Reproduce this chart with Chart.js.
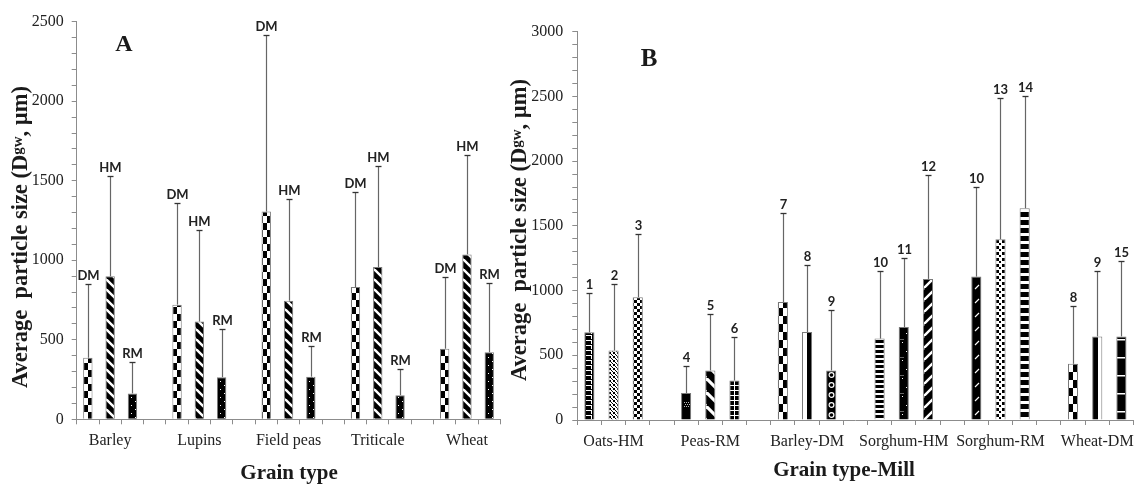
<!DOCTYPE html>
<html><head><meta charset="utf-8">
<script src="https://cdn.jsdelivr.net/npm/chart.js@4.4.1/dist/chart.umd.min.js"></script>
<style>
html,body{margin:0;padding:0;background:#fff;width:1139px;height:485px;overflow:hidden;}
#wa{position:absolute;left:0;top:0;width:510px;height:485px;}
#wb{position:absolute;left:505px;top:0;width:634px;height:485px;}
</style></head><body>
<div id="wa"><canvas id="ca" width="510" height="485"></canvas></div>
<div id="wb"><canvas id="cb" width="634" height="485"></canvas></div>
<script>
// ---------- Data: panel A ----------
const categoriesA = ['Barley', 'Lupins', 'Field peas', 'Triticale', 'Wheat'];
const millsA = ['DM', 'HM', 'RM'];
const dmMeanA = [387, 721, 1306, 832, 444];
const hmMeanA = [899, 615, 746, 957, 1037];
const rmMeanA = [163, 265, 268, 152, 422];
const dmUpperA = [849, 1361, 2418, 1432, 894];
const hmUpperA = [1528, 1189, 1386, 1591, 1662];
const rmUpperA = [360, 569, 461, 316, 855];
const yTicksA = {min: 0, max: 2500, major: 500, minor: 100};

// ---------- Data: panel B ----------
const categoriesB = ['Oats-HM', 'Peas-RM', 'Barley-DM', 'Sorghum-HM', 'Sorghum-RM', 'Wheat-DM'];
const barNumbersB = ['1','2','3','4','5','6','7','8','9','10','11','12','10','13','14','8','9','15'];
const meanB = [678, 537, 949, 208, 383, 305, 911, 679, 383, 629, 718, 1090, 1108, 1397, 1636, 434, 646, 646];
const upperB = [980, 1052, 1440, 418, 818, 638, 1598, 1198, 848, 1150, 1255, 1895, 1797, 2484, 2507, 884, 1152, 1232];
const yTicksB = {min: 0, max: 3000, major: 500, minor: 100};

// ---------- Patterns ----------
const K = '#000', Wt = '#fff';
function tile(w, h, draw) {
  const c = document.createElement('canvas'); c.width = w; c.height = h;
  const g = c.getContext('2d'); draw(g, w, h); return c;
}
function diag(g, w, h, lw, back) {
  g.fillStyle = K; g.fillRect(0, 0, w, h);
  g.strokeStyle = Wt; g.lineWidth = lw;
  for (const o of [-w, 0, w]) {
    g.beginPath();
    if (back) { g.moveTo(o, 0); g.lineTo(o + w, h); }
    else { g.moveTo(o, h); g.lineTo(o + w, 0); }
    g.stroke();
  }
}
const tiles = {
  checkerA: tile(8, 14, g => { g.fillStyle = Wt; g.fillRect(0,0,8,14); g.fillStyle = K; g.fillRect(0,0,4,7); g.fillRect(4,7,4,7); }),
  diagA: tile(10, 10, (g,w,h) => diag(g, w, h, 2.4, true)),
  dotsA: tile(8, 8, g => { g.fillStyle = K; g.fillRect(0,0,8,8); g.fillStyle = Wt; g.fillRect(2,2,1,1); g.fillRect(6,6,1,1); }),
  greek: tile(9, 5, g => { g.fillStyle = K; g.fillRect(0,0,9,5); g.fillStyle = Wt; g.fillRect(1,0,6,1); g.fillRect(6,0,1,4); }),
  fineCheck: tile(4, 4, g => { g.fillStyle = Wt; g.fillRect(0,0,4,4); g.fillStyle = K; g.fillRect(0,0,2,2); g.fillRect(2,2,1,1); g.fillRect(3,3,1,1); }),
  medCheck: tile(6, 6, g => { g.fillStyle = Wt; g.fillRect(0,0,6,6); g.fillStyle = K; g.fillRect(0,0,3,3); g.fillRect(3,3,3,3); }),
  blackPatch: tile(10, 30, g => { g.fillStyle = K; g.fillRect(0,0,10,30); g.fillStyle = '#bbb'; for (let y = 12; y < 18; y += 2) for (let x = 2; x < 8; x += 2) g.fillRect(x + (y % 4 ? 1 : 0), y, 1, 1); }),
  diagB: tile(14, 14, (g,w,h) => diag(g, w, h, 3.2, true)),
  ladder: tile(10, 5, g => { g.fillStyle = K; g.fillRect(0,0,10,5); g.fillStyle = Wt; g.fillRect(0,0,10,1); g.fillRect(4,0,1,5); }),
  checkerB: tile(8, 16, g => { g.fillStyle = Wt; g.fillRect(0,0,8,16); g.fillStyle = K; g.fillRect(0,0,4,8); g.fillRect(4,8,4,8); }),
  halfWB: tile(40, 4, g => { g.fillStyle = K; g.fillRect(0,0,40,4); g.fillStyle = Wt; g.fillRect(0,0,4,4); }),
  rings: tile(9, 10, g => { g.fillStyle = K; g.fillRect(0,0,9,10); g.strokeStyle = Wt; g.lineWidth = 1.2; g.beginPath(); g.arc(4.5, 5, 2.4, 0, Math.PI*2); g.stroke(); }),
  hThin: tile(5, 5, g => { g.fillStyle = K; g.fillRect(0,0,5,5); g.fillStyle = Wt; g.fillRect(0,3,5,2); }),
  sparseDots: tile(10, 18, g => { g.fillStyle = K; g.fillRect(0,0,10,18); g.fillStyle = Wt; g.fillRect(6,3,1,1); g.fillRect(2,12,1,1); g.fillStyle = '#666'; g.fillRect(0,9,4,1); }),
  diagF: tile(12, 12, (g,w,h) => diag(g, w, h, 2.4, false)),
  slashMarks: tile(10, 14, g => { g.fillStyle = K; g.fillRect(0,0,10,14); g.strokeStyle = Wt; g.lineWidth = 1.1; g.beginPath(); g.moveTo(3,9); g.lineTo(7,5); g.stroke(); }),
  confetti: tile(6, 6, g => { g.fillStyle = Wt; g.fillRect(0,0,6,6); g.fillStyle = K; g.fillRect(0,0,3,3); g.fillRect(3,3,2,2); }),
  hWide: tile(8, 8, g => { g.fillStyle = K; g.fillRect(0,0,8,5); g.fillStyle = Wt; g.fillRect(0,5,8,3); }),
  halfBW: tile(40, 4, g => { g.fillStyle = Wt; g.fillRect(0,0,40,4); g.fillStyle = K; g.fillRect(0,0,5,4); }),
  dashes: tile(20, 18, g => { g.fillStyle = K; g.fillRect(0,0,20,18); g.fillStyle = Wt; g.fillRect(0,9,8,1.5); })
};
const patCtx = document.createElement('canvas').getContext('2d');
const mkPat = name => patCtx.createPattern(tiles[name], 'repeat');

const patternA = ['checkerA', 'diagA', 'dotsA'];
const patternB = ['greek','fineCheck','medCheck','blackPatch','diagB','ladder','checkerB','halfWB','rings',
                  'hThin','sparseDots','diagF','slashMarks','confetti','hWide','checkerB','halfBW','dashes'];

// ---------- Build slot arrays (each bar = one category slot, blank slot between groups) ----------
function slotsA() {
  const labels = [], data = [], upper = [], text = [], fill = [];
  const means = [dmMeanA, hmMeanA, rmMeanA], ups = [dmUpperA, hmUpperA, rmUpperA];
  categoriesA.forEach((cat, g) => {
    for (let m = 0; m < 3; m++) {
      labels.push(m === 1 ? cat : '');
      data.push(means[m][g]); upper.push(ups[m][g]); text.push(millsA[m]); fill.push(mkPat(patternA[m]));
    }
    if (g < categoriesA.length - 1) { labels.push(''); data.push(null); upper.push(null); text.push(''); fill.push('rgba(0,0,0,0)'); }
  });
  return {labels, data, upper, text, fill};
}
function slotsB() {
  const labels = [], data = [], upper = [], text = [], fill = [];
  categoriesB.forEach((cat, g) => {
    for (let m = 0; m < 3; m++) {
      const i = g * 3 + m;
      labels.push(m === 1 ? cat : '');
      data.push(meanB[i]); upper.push(upperB[i]); text.push(barNumbersB[i]); fill.push(mkPat(patternB[i]));
    }
    if (g < categoriesB.length - 1) { labels.push(''); data.push(null); upper.push(null); text.push(''); fill.push('rgba(0,0,0,0)'); }
  });
  return {labels, data, upper, text, fill};
}

// ---------- Plugins ----------
const patternAlign = {
  id: 'patternAlign',
  beforeDatasetsDraw(chart) {
    chart.getDatasetMeta(0).data.forEach(el => {
      const p = el.options && el.options.backgroundColor;
      if (p && typeof p.setTransform === 'function') {
        p.setTransform(new DOMMatrix([1, 0, 0, 1, Math.round(el.x - el.width / 2) + 1, Math.round(el.base)]));
      }
    });
  }
};
const errorBars = {
  id: 'errorBars',
  afterDatasetsDraw(chart, args, opts) {
    const ctx = chart.ctx, ys = chart.scales.y, ds = chart.data.datasets[0];
    chart.getDatasetMeta(0).data.forEach((el, i) => {
      const u = ds.upper[i];
      if (u == null || ds.data[i] == null) return;
      const x = Math.round(el.x) + 0.5;
      const yt = Math.round(ys.getPixelForValue(u)) + 0.5;
      ctx.save();
      ctx.strokeStyle = '#666'; ctx.lineWidth = 1.2;
      ctx.beginPath(); ctx.moveTo(x, el.y); ctx.lineTo(x, yt); ctx.stroke();
      ctx.strokeStyle = '#333'; ctx.lineWidth = 1.3;
      ctx.beginPath(); ctx.moveTo(x - 3, yt); ctx.lineTo(x + 3, yt); ctx.stroke();
      ctx.fillStyle = '#222'; ctx.font = opts.labelFont;
      ctx.textAlign = 'center'; ctx.textBaseline = 'alphabetic';
      ctx.fillText(ds.text[i], x, yt - opts.labelGap);
      ctx.restore();
    });
  }
};
const decor = {
  id: 'decor',
  afterDraw(chart, args, o) {
    const ctx = chart.ctx;
    ctx.save();
    ctx.fillStyle = '#1a1a1a';
    // panel letter
    ctx.font = o.letterFont; ctx.textAlign = 'center'; ctx.textBaseline = 'middle';
    ctx.fillText(o.letter, o.letterX, o.letterY);
    // x title
    ctx.font = o.xTitleFont; ctx.textAlign = 'center'; ctx.textBaseline = 'alphabetic';
    ctx.fillText(o.xTitle, o.xTitleX, o.xTitleBase);
    // y title with small raised "gw"
    const parts = [['Average  particle size (D', 'bold 22.5px "Liberation Serif"', 0],
                   ['gw', 'bold 15px "Liberation Serif"', -5],
                   [', \u00b5m)', 'bold 22.5px "Liberation Serif"', 0]];
    let total = 0;
    parts.forEach(p => { ctx.font = p[1]; p.push(ctx.measureText(p[0]).width); total += p[3]; });
    ctx.translate(o.yTitleBase, o.yTitleY);
    ctx.rotate(-Math.PI / 2);
    ctx.textAlign = 'left';
    let x = -total / 2;
    parts.forEach(p => { ctx.font = p[1]; ctx.fillText(p[0], x, p[2]); x += p[3]; });
    ctx.restore();
  }
};

function makeChart(canvasId, s, yt, area, deco) {
  const axisColor = '#8c8c8c';
  return new Chart(document.getElementById(canvasId), {
    type: 'bar',
    data: {
      labels: s.labels,
      datasets: [{
        data: s.data, upper: s.upper, text: s.text,
        backgroundColor: s.fill, borderColor: '#7a7a7a', borderWidth: 1,
        barPercentage: 0.42, categoryPercentage: 1.0
      }]
    },
    options: {
      responsive: false, animation: false, devicePixelRatio: 1,
      events: [],
      layout: {padding: {left: 0, top: area.top, right: area.right, bottom: 0}},
      plugins: {
        legend: {display: false}, tooltip: {enabled: false}, title: {display: false},
        errorBars: {labelFont: 'bold 13px Lato', labelGap: 5},
        decor: deco
      },
      scales: {
        x: {
          offset: true,
          grid: {offset: true, drawOnChartArea: false, drawTicks: true, tickLength: 5, color: axisColor},
          border: {color: axisColor, width: 1},
          ticks: {autoSkip: false, maxRotation: 0, minRotation: 0, padding: 7, color: '#222',
                  font: {family: '"Liberation Serif"', size: 16}},
          afterFit(scale) { scale.height = area.xHeight; }
        },
        y: {
          min: yt.min, max: yt.max,
          grid: {drawOnChartArea: false, drawTicks: true, tickLength: 5, color: axisColor},
          border: {color: axisColor, width: 1},
          ticks: {stepSize: yt.minor, autoSkip: false, padding: area.yPad, color: '#222',
                  font: {family: '"Liberation Serif"', size: 16},
                  callback: v => (v % yt.major === 0 ? String(v) : '')},
          afterFit(scale) { scale.width = area.left; }
        }
      }
    },
    plugins: [patternAlign, errorBars, decor]
  });
}

makeChart('ca', slotsA(), yTicksA,
  {left: 76.7, top: 21.7, right: 9.6, xHeight: 65.7, yPad: 8},
  {letter: 'A', letterFont: 'bold 24px "Liberation Serif"', letterX: 124, letterY: 45,
   xTitle: 'Grain type', xTitleFont: 'bold 21px "Liberation Serif"', xTitleX: 289, xTitleBase: 479,
   yTitleBase: 27, yTitleY: 237});

makeChart('cb', slotsB(), yTicksB,
  {left: 72.3, top: 31.7, right: 5.5, xHeight: 65, yPad: 9},
  {letter: 'B', letterFont: 'bold 25px "Liberation Serif"', letterX: 144, letterY: 60,
   xTitle: 'Grain type-Mill', xTitleFont: 'bold 21px "Liberation Serif"', xTitleX: 339, xTitleBase: 476,
   yTitleBase: 21, yTitleY: 230});
</script>
</body></html>
